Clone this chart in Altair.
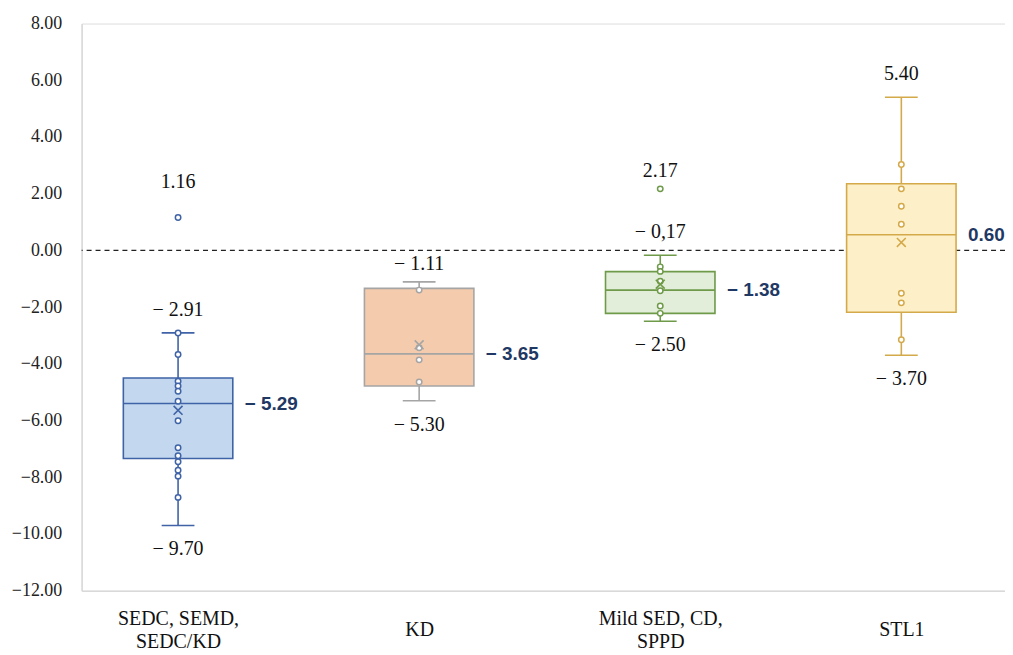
import altair as alt
import pandas as pd

# ---------------- data ----------------
cat_lines = [["SEDC, SEMD,", "SEDC/KD"], ["KD"], ["Mild SED, CD,", "SPPD"], ["STL1"]]
cats = [" ".join(c) for c in cat_lines]

lower = [-9.70, -5.30, -2.50, -3.70]
q1 = [-7.34, -4.78, -2.22, -2.18]
median = [-5.40, -3.65, -1.40, 0.55]
q3 = [-4.50, -1.34, -0.75, 2.35]
upper = [-2.91, -1.11, -0.17, 5.40]
mean = [-5.64, -3.33, -1.19, 0.28]
side_labels = ["\u2212 5.29", "\u2212 3.65", "\u2212 1.38", "0.60"]

points = [
    [1.16, -2.91, -3.67, -4.61, -4.78, -4.97, -5.32, -6.01, -6.96, -7.24, -7.45, -7.75, -7.96, -8.71],
    [-1.40, -3.43, -3.86, -4.64],
    [2.17, -0.58, -0.74, -1.09, -1.42, -1.96, -2.22],
    [3.03, 2.17, 1.56, 0.92, -1.51, -1.85, -3.15],
]

# value labels: (group index, value, text, kind)
lab_group = [0, 0, 0, 1, 1, 2, 2, 2, 3, 3]
lab_value = [1.16, -2.91, -9.70, -1.11, -5.30, 2.17, -0.17, -2.50, 5.40, -3.70]
lab_text = ["1.16", "\u2212 2.91", "\u2212 9.70", "\u2212 1.11", "\u2212 5.30",
            "2.17", "\u2212 0,17", "\u2212 2.50", "5.40", "\u2212 3.70"]
lab_kind = ["far", "above", "below", "near", "below", "near", "above", "below", "above", "below"]

fills = ["#c3d8ee", "#f4cbac", "#e2eed9", "#fdf0c9"]
strokes = ["#3f63a6", "#a5a5a5", "#6e9a49", "#d4a94a"]

HALF = 0.227   # half box width (x units)
CAP = 0.068    # half cap width

# ---------------- tables ----------------
stats = pd.DataFrame({
    "cat": cats, "pos": [1, 2, 3, 4], "lower": lower, "q1": q1, "median": median,
    "q3": q3, "upper": upper, "mean": mean, "side": side_labels,
})
stats["left"] = stats["pos"] - HALF
stats["right"] = stats["pos"] + HALF
stats["capl"] = stats["pos"] - CAP
stats["capr"] = stats["pos"] + CAP

pts = pd.DataFrame([
    {"cat": cats[i], "pos": i + 1, "v": v} for i, ps in enumerate(points) for v in ps
])
labs = pd.DataFrame({
    "cat": [cats[g] for g in lab_group], "pos": [g + 1 for g in lab_group],
    "v": lab_value, "text": lab_text, "kind": lab_kind,
})

SERIF = "Liberation Serif"
label_expr = "[" + ",".join("[" + ",".join("'" + l + "'" for l in c) + "]" for c in cat_lines) + "][datum.value - 1]"
single = " || ".join(f"datum.value == {i + 1}" for i, c in enumerate(cat_lines) if len(c) == 1)

xscale = alt.Scale(domain=[0.6, 4.43], nice=False, zero=False)
yscale = alt.Scale(domain=[-12, 8], nice=False, zero=False)
xaxis = alt.Axis(values=[1, 2, 3, 4], labelExpr=label_expr, ticks=False, grid=False,
                 domainColor="#d9d9d9", domainWidth=1.5,
                 labelPadding={"condition": {"test": single, "value": 39}, "value": 28},
                 labelBaseline="middle",
                 labelLineHeight=23, labelFont=SERIF, labelFontSize=20, labelColor="#111",
                 labelOverlap=False, labelFlush=False, title=None)
yaxis = alt.Axis(values=list(range(-12, 9, 2)), format=".2f", ticks=False, grid=False,
                 domainColor="#d9d9d9", domainWidth=1.5, labelPadding=20, labelFont=SERIF,
                 labelFontSize=18, labelColor="#222", title=None)

fill_scale = alt.Scale(domain=cats, range=fills)
stroke_scale = alt.Scale(domain=cats, range=strokes)


def X(f):
    return alt.X(f, type="quantitative", scale=xscale, axis=xaxis)


def Y(f):
    return alt.Y(f, type="quantitative", scale=yscale, axis=yaxis)


STROKE = alt.Stroke("cat:N", scale=stroke_scale, legend=None)
FILL = alt.Fill("cat:N", scale=fill_scale, legend=None)

base = alt.Chart(stats)

zero = alt.Chart(pd.DataFrame({"y": [0]})).mark_rule(
    color="#222", strokeDash=[5, 4], strokeWidth=1.3
).encode(y=Y("y"))

whisk_lo = base.mark_rule(strokeWidth=1.6).encode(x=X("pos"), y=Y("lower"), y2="q1", stroke=STROKE)
whisk_hi = base.mark_rule(strokeWidth=1.6).encode(x=X("pos"), y=Y("q3"), y2="upper", stroke=STROKE)
cap_lo = base.mark_rule(strokeWidth=1.6).encode(x=X("capl"), x2="capr", y=Y("lower"), stroke=STROKE)
cap_hi = base.mark_rule(strokeWidth=1.6).encode(x=X("capl"), x2="capr", y=Y("upper"), stroke=STROKE)
boxes = base.mark_rect(strokeWidth=1.6).encode(x=X("left"), x2="right", y=Y("q3"), y2="q1",
                                                fill=FILL, stroke=STROKE)
med = base.mark_rule(strokeWidth=1.6).encode(x=X("left"), x2="right", y=Y("median"), stroke=STROKE)

dots = alt.Chart(pts).mark_point(shape="circle", filled=False, fill="white", fillOpacity=1,
                                 size=30, strokeWidth=1.5, opacity=1).encode(
    x=X("pos"), y=Y("v"), stroke=STROKE)

means = base.mark_point(shape="M-1,-1L1,1M-1,1L1,-1", filled=False, size=80, strokeWidth=1.6,
                        opacity=1).encode(x=X("pos"), y=Y("mean"), stroke=STROKE)

side = base.mark_text(align="left", baseline="middle", dx=12, font="Liberation Sans",
                      fontWeight="bold", fontSize=19, color="#1f3864").encode(
    x=X("right"), y=Y("median"), text="side")


def lab_layer(kind, dy):
    return alt.Chart(labs).transform_filter(alt.datum.kind == kind).mark_text(
        baseline="middle", align="center", dy=dy, font=SERIF, fontSize=20, color="#111"
    ).encode(x=X("pos"), y=Y("v"), text="text")


chart = alt.layer(
    zero, whisk_lo, whisk_hi, cap_lo, cap_hi, boxes, med, dots, means, side,
    lab_layer("above", -23), lab_layer("near", -18), lab_layer("below", 24), lab_layer("far", -36),
).properties(
    width=928, height=570,
    autosize=alt.AutoSizeParams(type="none"),
    padding={"left": 74, "top": 14, "right": 0, "bottom": 60},
).configure_view(stroke=None).configure_axis(labelFont=SERIF).configure(background="white")

chart.save("out.html", embed_options={"renderer": "svg", "actions": False})
